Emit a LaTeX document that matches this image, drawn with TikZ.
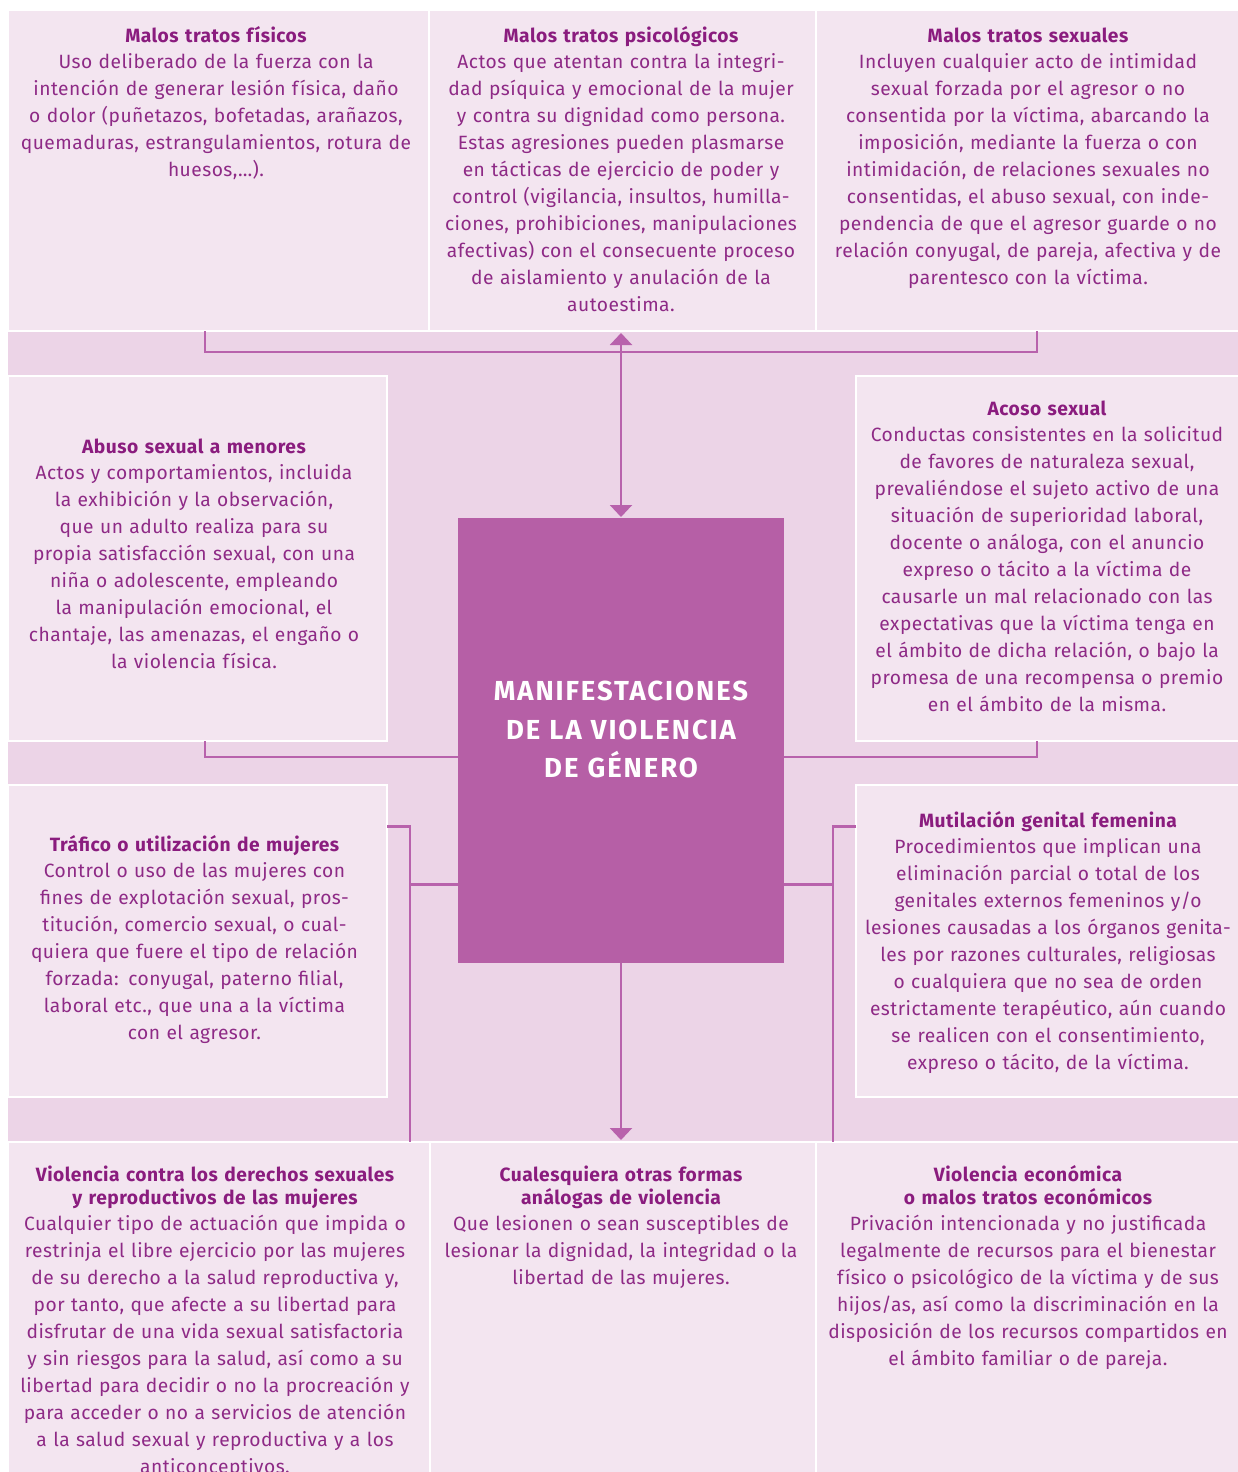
\documentclass[tikz,border=0pt]{standalone}
\usepackage{fontspec}
\setmainfont{Fira Sans}[LetterSpace=2.5]
\usetikzlibrary{arrows.meta}
\definecolor{band}{HTML}{ECD4E7}
\definecolor{boxfill}{HTML}{F3E5F0}
\definecolor{central}{HTML}{B65FA6}
\definecolor{conn}{HTML}{B862AC}
\definecolor{txt}{HTML}{8E2A86}
\definecolor{ttl}{HTML}{8A1C7E}
\newcommand{\boxtitle}[1]{{\bfseries\color{ttl}#1}}
\begin{document}
\begin{tikzpicture}[x=1pt,y=-1pt,
  panel/.style={draw=white, line width=2pt, fill=boxfill, inner sep=0pt, outer sep=0pt, anchor=north west},
  body/.style={text=txt, align=center, inner sep=0pt, anchor=base, font=\fontsize{19.2}{27}\selectfont},
  connline/.style={draw=conn, line width=2.2pt},
  tip/.style={-{Triangle[width=22pt,length=12pt]}}
]
\useasboundingbox (0,0) rectangle (1238,1472);
\clip (0,0) rectangle (1238,1472);
\fill[white] (0,0) rectangle (1238,1472);
\fill[band] (8,10) rectangle (1238,1480);

% panels
\node[panel, minimum width=421pt, minimum height=321pt] (b1) at (8,10) {};
\node[panel, minimum width=387pt, minimum height=321pt] (b2) at (429,10) {};
\node[panel, minimum width=424pt, minimum height=321pt] (b3) at (816,10) {};
\node[panel, minimum width=379pt, minimum height=365pt] (b4) at (8,376) {};
\node[panel, minimum width=384pt, minimum height=365pt] (b5) at (856,376) {};
\node[panel, minimum width=379pt, minimum height=312pt] (b6) at (8,785) {};
\node[panel, minimum width=384pt, minimum height=312pt] (b7) at (856,785) {};
\node[panel, minimum width=422pt, minimum height=340pt] (b8) at (8,1142) {};
\node[panel, minimum width=386pt, minimum height=340pt] (b9) at (430,1142) {};
\node[panel, minimum width=424pt, minimum height=340pt] (b10) at (816,1142) {};

% central box
\node[fill=central, minimum width=326pt, minimum height=445pt, inner sep=0pt, outer sep=0pt] (c) at (621,740.5) {};
\node[text=white, align=center, text width=326pt, inner sep=0pt, anchor=base,
  font=\fontsize{27.5}{38.5}\bfseries\addfontfeature{LetterSpace=7}] (ct) at (621,700.5)
  {MANIFESTACIONES\\DE LA VIOLENCIA\\DE GÉNERO};

% connectors
\coordinate (tl) at (205,352);
\coordinate (tr) at (1037,352);
\draw[connline] (b1.south -| tl) -- (tl) -- (tr) -- (b3.south -| tr);
\draw[connline, {Triangle[width=22pt,length=12pt]}-{Triangle[width=22pt,length=12pt]}, shorten <=2pt, shorten >=1pt] (c.north |- b2.south) -- (c.north);
\coordinate (ml) at (205,757);
\coordinate (mr) at (1037,757);
\draw[connline] (b4.south -| ml) -- (ml) -- (c.west |- ml);
\draw[connline] (c.east |- mr) -- (mr) -- (b5.south -| mr);
\coordinate (ll) at (410,826.5);
\coordinate (lj) at (410,884.5);
\draw[connline] (b6.east |- ll) -- (ll) -- (ll |- b8.north);
\draw[connline] (lj) -- (c.west |- lj);
\coordinate (rr) at (833,826.5);
\coordinate (rj) at (833,884.5);
\draw[connline] (b7.west |- rr) -- (rr) -- (rr |- b10.north);
\draw[connline] (rj) -- (c.east |- rj);
\draw[connline, tip, shorten >=2pt] (c.south) -- (c.south |- b9.north);

% texts
\node[body, text width=420pt] (t1) at (216,42.5) {\boxtitle{Malos tratos físicos}\\[-1pt]
Uso deliberado de la fuerza con la\\
intención de generar lesión física, daño\\
o dolor (puñetazos, bofetadas, arañazos,\\
quemaduras, estrangulamientos, rotura de\\
huesos,…).};

\node[body, text width=386pt] (t2) at (621,42.5) {\boxtitle{Malos tratos psicológicos}\\[-1pt]
Actos que atentan contra la integri-\\
dad psíquica y emocional de la mujer\\
y contra su dignidad como persona.\\
Estas agresiones pueden plasmarse\\
en tácticas de ejercicio de poder y\\
control (vigilancia, insultos, humilla-\\
ciones, prohibiciones, manipulaciones\\
afectivas) con el consecuente proceso\\
de aislamiento y anulación de la\\
autoestima.};

\node[body, text width=420pt] (t3) at (1028,42.5) {\boxtitle{Malos tratos sexuales}\\[-1pt]
Incluyen cualquier acto de intimidad\\
sexual forzada por el agresor o no\\
consentida por la víctima, abarcando la\\
imposición, mediante la fuerza o con\\
intimidación, de relaciones sexuales no\\
consentidas, el abuso sexual, con inde-\\
pendencia de que el agresor guarde o no\\
relación conyugal, de pareja, afectiva y de\\
parentesco con la víctima.};

\node[body, text width=378pt] (t4) at (194,453) {\boxtitle{Abuso sexual a menores}\\[-1pt]
Actos y comportamientos, incluida\\
la exhibición y la observación,\\
que un adulto realiza para su\\
propia satisfacción sexual, con una\\
niña o adolescente, empleando\\
la manipulación emocional, el\\
chantaje, las amenazas, el engaño o\\
la violencia física.};

\node[body, text width=382pt] (t5) at (1047,415) {\boxtitle{Acoso sexual}\\[-1pt]
Conductas consistentes en la solicitud\\
de favores de naturaleza sexual,\\
prevaliéndose el sujeto activo de una\\
situación de superioridad laboral,\\
docente o análoga, con el anuncio\\
expreso o tácito a la víctima de\\
causarle un mal relacionado con las\\
expectativas que la víctima tenga en\\
el ámbito de dicha relación, o bajo la\\
promesa de una recompensa o premio\\
en el ámbito de la misma.};

\node[body, text width=378pt] (t6) at (194.5,851) {\boxtitle{Tráfico o utilización de mujeres}\\[-1pt]
Control o uso de las mujeres con\\
fines de explotación sexual, pros-\\
titución, comercio sexual, o cual-\\
quiera que fuere el tipo de relación\\
forzada: conyugal, paterno filial,\\
laboral etc., que una a la víctima\\
con el agresor.};

\node[body, text width=382pt] (t7) at (1048,827) {\boxtitle{Mutilación genital femenina}\\[-1pt]
Procedimientos que implican una\\
eliminación parcial o total de los\\
genitales externos femeninos y/o\\
lesiones causadas a los órganos genita-\\
les por razones culturales, religiosas\\
o cualquiera que no sea de orden\\
estrictamente terapéutico, aún cuando\\
se realicen con el consentimiento,\\
expreso o tácito, de la víctima.};

\node[body, text width=420pt] (t8) at (215,1181) {\boxtitle{Violencia contra los derechos sexuales}\\[-4pt]
\boxtitle{y reproductivos de las mujeres}\\[-1pt]
Cualquier tipo de actuación que impida o\\
restrinja el libre ejercicio por las mujeres\\
de su derecho a la salud reproductiva y,\\
por tanto, que afecte a su libertad para\\
disfrutar de una vida sexual satisfactoria\\
y sin riesgos para la salud, así como a su\\
libertad para decidir o no la procreación y\\
para acceder o no a servicios de atención\\
a la salud sexual y reproductiva y a los\\
anticonceptivos.};

\node[body, text width=386pt] (t9) at (621,1181) {\boxtitle{Cualesquiera otras formas}\\[-4pt]
\boxtitle{análogas de violencia}\\[-1pt]
Que lesionen o sean susceptibles de\\
lesionar la dignidad, la integridad o la\\
libertad de las mujeres.};

\node[body, text width=420pt] (t10) at (1028,1181) {\boxtitle{Violencia económica}\\[-4pt]
\boxtitle{o malos tratos económicos}\\[-1pt]
Privación intencionada y no justificada\\
legalmente de recursos para el bienestar\\
físico o psicológico de la víctima y de sus\\
hijos/as, así como la discriminación en la\\
disposición de los recursos compartidos en\\
el ámbito familiar o de pareja.};
\end{tikzpicture}
\end{document}
